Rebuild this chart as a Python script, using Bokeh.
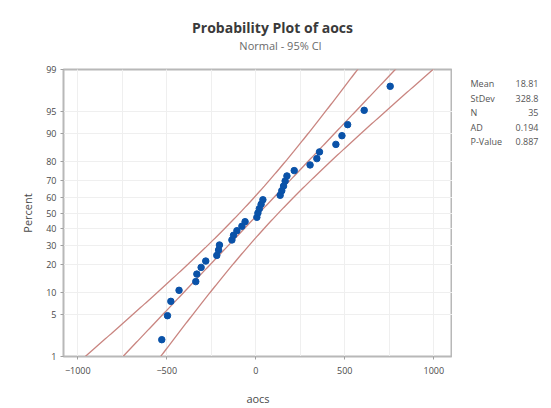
from statistics import NormalDist
import numpy as np
from bokeh.plotting import figure
from bokeh.layouts import column, row
from bokeh.models import FixedTicker, CustomJSTickFormatter, ColumnDataSource, Range1d
from bokeh.core.properties import value
from bokeh.embed import file_html
from bokeh.resources import INLINE

# ---- data ----
aocs = [-528, -496, -477, -431, -337, -331, -307, -281, -219, -209, -204, -134,
        -125, -106, -78, -60, 6, 12, 20, 30, 40, 137, 146, 156, 165, 175, 216,
        305, 343, 358, 450, 484, 516, 609, 755]
percent = [2.0, 4.8, 7.6, 10.5, 13.3, 16.1, 18.9, 21.8, 24.6, 27.4, 30.2, 33.1,
           35.9, 38.7, 41.5, 44.4, 47.2, 50.0, 52.8, 55.6, 58.5, 61.3, 64.1, 66.9,
           69.8, 72.6, 75.4, 78.2, 81.1, 83.9, 86.7, 89.5, 92.4, 95.2, 98.0]
y_tick_percent = [1, 5, 10, 20, 30, 40, 50, 60, 70, 80, 90, 95, 99]
x_ticks = [-1000, -500, 0, 500, 1000]
x_minor = [-1000, -750, -500, -250, 0, 250, 500, 750, 1000]
mean, stdev, n = 18.81, 328.8, 35
stat_names = ["Mean", "StDev", "N", "AD", "P-Value"]
stat_values = ["18.81", "328.8", "35", "0.194", "0.887"]
title_text = "Probability Plot of aocs"
subtitle_text = "Normal - 95% CI"

nd = NormalDist()
def zq(pct):
    return nd.inv_cdf(pct / 100.0)

FONT = "Open Sans"
LINE_C = "#c98580"
DOT_C = "#0a52a8"

def blank(fig):
    fig.grid.visible = False
    fig.outline_line_color = None
    fig.title.visible = False
    fig.background_fill_color = "white"
    fig.border_fill_color = "white"

# ---- title strip ----
top = figure(width=551, height=60, x_range=Range1d(0, 551), y_range=Range1d(60, 0),
             output_backend="svg", toolbar_location=None,
             x_axis_location=None, y_axis_location=None,
             min_border=0, min_border_left=0, min_border_right=0, min_border_top=0, min_border_bottom=0)
blank(top)
top.text(x=[272], y=[27], text=[title_text], text_font=value(FONT), text_font_size="14px",
         text_font_style="bold", text_color="#3a3a3a", text_align="center", text_baseline="middle")
top.text(x=[280], y=[45], text=[subtitle_text], text_font=value(FONT), text_font_size="11px",
         text_color="#6a6a6a", text_align="center", text_baseline="middle")

# ---- main plot ----
zmin, zmax = zq(1), zq(99)
p = figure(width=452, height=348, x_range=(-1080, 1105), y_range=(zmin, zmax),
           output_backend="svg", toolbar_location=None,
           min_border_left=63, min_border_right=0, min_border_top=9, min_border_bottom=50)
p.title.visible = False
p.outline_line_color = "#b8b8b8"
p.outline_line_width = 2
p.background_fill_color = "white"
p.border_fill_color = "white"

zz = np.linspace(-2.8, 2.8, 200)
fit = mean + zz * stdev
half = 1.96 * stdev * np.sqrt(1.0 / n + zz ** 2 / (2 * (n - 1)))
for xs in (fit, fit - half, fit + half):
    p.line(xs, zz, line_color=LINE_C, line_width=1.3)

src = ColumnDataSource(dict(x=aocs, z=[zq(v) for v in percent]))
p.scatter("x", "z", source=src, size=6.5, fill_color=DOT_C, line_color=DOT_C)

zt = [zq(v) for v in y_tick_percent]
p.yaxis.ticker = FixedTicker(ticks=zt)
p.yaxis.formatter = CustomJSTickFormatter(args=dict(zs=zt, labels=[str(v) for v in y_tick_percent]), code="""
let b = 0;
for (let i = 0; i < zs.length; i++) { if (Math.abs(zs[i] - tick) < Math.abs(zs[b] - tick)) b = i; }
return labels[b];
""")
p.xaxis.ticker = FixedTicker(ticks=x_ticks, minor_ticks=x_minor)
p.xgrid.minor_grid_line_color = "#efefef"
p.xgrid.grid_line_color = "#efefef"
p.ygrid.grid_line_color = "#efefef"
p.xaxis.minor_tick_line_color = None

for ax in (p.xaxis[0], p.yaxis[0]):
    ax.axis_line_color = "#b8b8b8"
    ax.major_tick_line_color = "#a0a0a0"
    ax.major_tick_out = 3
    ax.major_tick_in = 0
    ax.major_label_text_font = FONT
    ax.major_label_text_font_size = "9px"
    ax.major_label_text_color = "#4a4a4a"
    ax.axis_label_text_font = FONT
    ax.axis_label_text_font_size = "11px"
    ax.axis_label_text_font_style = "normal"
    ax.axis_label_text_color = "#4a4a4a"

p.xaxis.axis_label = "aocs"
p.xaxis.axis_label_standoff = 14
p.xaxis.major_label_standoff = 6
p.yaxis.axis_label = "Percent"
p.yaxis.axis_label_standoff = 8
p.yaxis.major_label_standoff = 4

# ---- statistics panel (its frame is aligned with the main frame: page y 69..358) ----
side = figure(width=99, height=348, x_range=Range1d(452, 551), y_range=Range1d(358, 69),
              output_backend="svg", toolbar_location=None,
              x_axis_location=None, y_axis_location=None,
              min_border=0, min_border_left=0, min_border_right=0, min_border_top=9, min_border_bottom=50)
blank(side)
rows_y = [83.5, 98.0, 112.5, 127.0, 141.5]
side.text(x=[470] * len(stat_names), y=rows_y, text=stat_names, text_font=value(FONT),
          text_font_size="9px", text_color="#555555", text_align="left", text_baseline="middle")
side.text(x=[538] * len(stat_values), y=rows_y, text=stat_values, text_font=value(FONT),
          text_font_size="9px", text_color="#555555", text_align="right", text_baseline="middle")

layout = column(top, row(p, side, spacing=0), spacing=0)
open("out.html", "w").write(file_html(layout, INLINE))
